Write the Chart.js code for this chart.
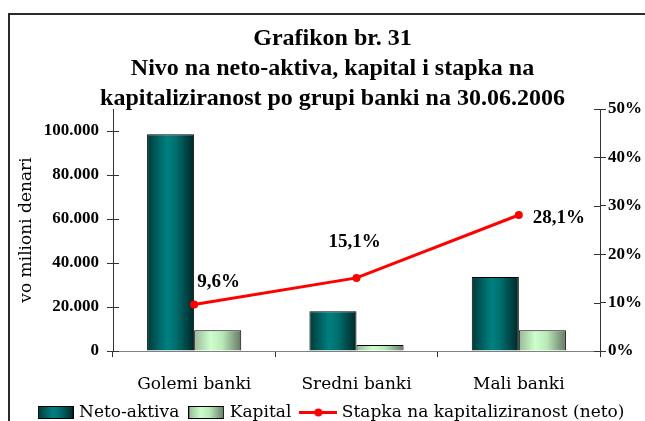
<!DOCTYPE html>
<html>
<head>
<meta charset="utf-8">
<script src="https://cdn.jsdelivr.net/npm/chart.js@4.4.1/dist/chart.umd.min.js"></script>
<style>
  html, body { margin: 0; padding: 0; background: #fff; }
  #wrap { width: 645px; height: 421px; position: relative; }
</style>
</head>
<body>
<div id="wrap"><canvas id="chart"></canvas></div>
<script>
// podatoci (citani od slikata)
const categories = ["Golemi banki", "Sredni banki", "Mali banki"];
const netoAktiva = [98500, 18100, 33600];
const kapital = [9450, 2750, 9450];
const stapka = [9.6, 15.1, 28.1];
const stapkaLabels = ["9,6%", "15,1%", "28,1%"];
const leftTicks = [0, 20000, 40000, 60000, 80000, 100000];
const rightTicks = [0, 10, 20, 30, 40, 50];
const titleLines = [
  "Grafikon br. 31",
  "Nivo na neto-aktiva, kapital i stapka na",
  "kapitaliziranost po grupi banki na 30.06.2006"
];

// kade da stoi sekoja etiketa okolu tockata (dx, dy, poravnuvanje)
const labelPlace = [[3, -22, "left"], [-2, -36, "center"], [14, 3, "left"]];

const CAT_PCT = 0.58;
const netoStops = [[0, "#003a3a"], [0.42, "#008080"], [0.6, "#007070"], [1, "#002626"]];
const kapStops = [[0, "#98b898"], [0.35, "#ccffcc"], [0.6, "#b8e8b8"], [1, "#667766"]];

function fmtThousands(v) {
  return String(v).replace(/\B(?=(\d{3})+(?!\d))/g, ".");
}

function makeGrad(ctx, x0, x1, stops) {
  const g = ctx.createLinearGradient(x0, 0, x1, 0);
  stops.forEach(s => g.addColorStop(s[0], s[1]));
  return g;
}

// gradient po sekoja kolona, presmetan od x skalata
function barGradient(stops, side) {
  return function (c) {
    const chart = c.chart;
    const xs = chart.scales.x;
    if (!xs || !chart.chartArea) return stops[1][1];
    const center = xs.getPixelForValue(c.dataIndex);
    const w = (xs.width / categories.length) * CAT_PCT / 2;
    const x0 = side === 0 ? center - w : center;
    return makeGrad(chart.ctx, x0, x0 + w, stops);
  };
}

// ikoni za legendata
function swatch(stops) {
  const cv = document.createElement("canvas");
  cv.width = 36; cv.height = 13;
  const c = cv.getContext("2d");
  c.fillStyle = makeGrad(c, 0, 36, stops);
  c.fillRect(0, 0, 36, 13);
  c.strokeStyle = "#000";
  c.lineWidth = 1;
  c.strokeRect(0.5, 0.5, 35, 12);
  return cv;
}
function lineIcon() {
  const cv = document.createElement("canvas");
  cv.width = 38; cv.height = 13;
  const c = cv.getContext("2d");
  c.strokeStyle = "#ff0000";
  c.lineWidth = 3;
  c.beginPath(); c.moveTo(0, 6.5); c.lineTo(38, 6.5); c.stroke();
  c.fillStyle = "#ff0000";
  c.beginPath(); c.arc(19, 6.5, 4, 0, Math.PI * 2); c.fill();
  return cv;
}
const legendIcons = [swatch(netoStops), swatch(kapStops), lineIcon()];

// ramka okolu celiot grafikon
const framePlugin = {
  id: "frame",
  afterDraw(chart) {
    const c = chart.ctx;
    c.save();
    c.strokeStyle = "#2a2a2a";
    c.lineWidth = 2;
    c.strokeRect(9, 14, chart.width + 10, chart.height + 10);
    c.restore();
  }
};

// kratki crticki koi ja presekuvaat oskata (kako vo Excel)
const innerTicks = {
  id: "innerTicks",
  afterDatasetsDraw(chart) {
    const c = chart.ctx;
    c.save();
    c.strokeStyle = "#333";
    c.lineWidth = 1;
    ["y", "y1"].forEach(id => {
      const s = chart.scales[id];
      const x = id === "y" ? s.right : s.left;
      const dir = id === "y" ? 1 : -1;
      s.ticks.forEach(t => {
        const y = Math.round(s.getPixelForValue(t.value)) + 0.5;
        c.beginPath(); c.moveTo(x, y); c.lineTo(x + dir * 6, y); c.stroke();
      });
    });
    c.restore();
  }
};

// etiketi na procentite
const pctLabels = {
  id: "pctLabels",
  afterDatasetsDraw(chart) {
    const meta = chart.getDatasetMeta(2);
    const c = chart.ctx;
    c.save();
    c.font = "bold 19px 'Liberation Serif'";
    c.fillStyle = "#000";
    c.textBaseline = "middle";
    meta.data.forEach((pt, i) => {
      const p = labelPlace[i];
      c.textAlign = p[2];
      c.fillText(stapkaLabels[i], pt.x + p[0], pt.y + p[1]);
    });
    c.restore();
  }
};

const serif = "'DejaVu Serif'";
const boldSerif = "'Liberation Serif'";

new Chart(document.getElementById("chart"), {
  type: "bar",
  data: {
    labels: categories,
    datasets: [
      {
        label: "Neto-aktiva",
        data: netoAktiva,
        backgroundColor: barGradient(netoStops, 0),
        borderColor: "#000",
        borderWidth: 1,
        categoryPercentage: CAT_PCT,
        barPercentage: 1,
        yAxisID: "y",
        order: 2
      },
      {
        label: "Kapital",
        data: kapital,
        backgroundColor: barGradient(kapStops, 1),
        borderColor: "#000",
        borderWidth: 1,
        categoryPercentage: CAT_PCT,
        barPercentage: 1,
        yAxisID: "y",
        order: 2
      },
      {
        type: "line",
        label: "Stapka na kapitaliziranost (neto)",
        data: stapka,
        borderColor: "#ff0000",
        backgroundColor: "#ff0000",
        borderWidth: 3,
        pointRadius: 4,
        pointBackgroundColor: "#ff0000",
        pointBorderWidth: 0,
        tension: 0,
        yAxisID: "y1",
        order: 1
      }
    ]
  },
  plugins: [framePlugin, innerTicks, pctLabels],
  options: {
    responsive: true,
    maintainAspectRatio: false,
    animation: false,
    layout: { padding: { left: 20, right: 0, top: 0, bottom: -10 } },
    plugins: {
      title: {
        display: true,
        text: titleLines,
        color: "#000",
        font: { family: boldSerif, size: 24, weight: "bold", lineHeight: 1.25 },
        padding: { top: 24, bottom: -5 }
      },
      legend: {
        display: true,
        position: "bottom",
        labels: {
          color: "#000",
          font: { family: serif, size: 17 },
          usePointStyle: true,
          pointStyleWidth: 30,
          boxHeight: 13,
          padding: 12,
          generateLabels(chart) {
            return chart.data.datasets.map((ds, i) => ({
              text: ds.label,
              pointStyle: legendIcons[i],
              datasetIndex: i,
              fontColor: "#000",
              lineWidth: 0,
              hidden: false
            }));
          }
        }
      },
      tooltip: { enabled: false }
    },
    scales: {
      x: {
        grid: { offset: true, drawOnChartArea: false, tickLength: 6, color: "#333" },
        border: { color: "#808080", width: 1 },
        ticks: {
          color: "#000",
          padding: 17,
          font: { family: serif, size: 17 }
        },
        afterFit(s) { s.height = 41; }
      },
      y: {
        position: "left",
        min: 0,
        max: 110000,
        grid: { drawOnChartArea: false, tickLength: 6, color: "#333" },
        border: { color: "#333", width: 1 },
        afterBuildTicks(s) { s.ticks = leftTicks.map(v => ({ value: v })); },
        ticks: {
          color: "#000",
          padding: 8,
          font: { family: boldSerif, size: 17, weight: "bold" },
          callback: v => fmtThousands(v)
        },
        title: {
          display: true,
          text: "vo milioni denari",
          color: "#000",
          font: { family: serif, size: 17 },
          padding: { top: -4, bottom: 0 }
        },
        afterFit(s) { s.width = 93; }
      },
      y1: {
        position: "right",
        min: 0,
        max: 50,
        grid: { drawOnChartArea: false, tickLength: 6, color: "#333" },
        border: { color: "#333", width: 1 },
        afterBuildTicks(s) { s.ticks = rightTicks.map(v => ({ value: v })); },
        ticks: {
          color: "#000",
          padding: 2,
          font: { family: boldSerif, size: 17, weight: "bold" },
          callback: v => v + "%"
        },
        afterFit(s) { s.width = 45; }
      }
    }
  }
});
</script>
</body>
</html>
